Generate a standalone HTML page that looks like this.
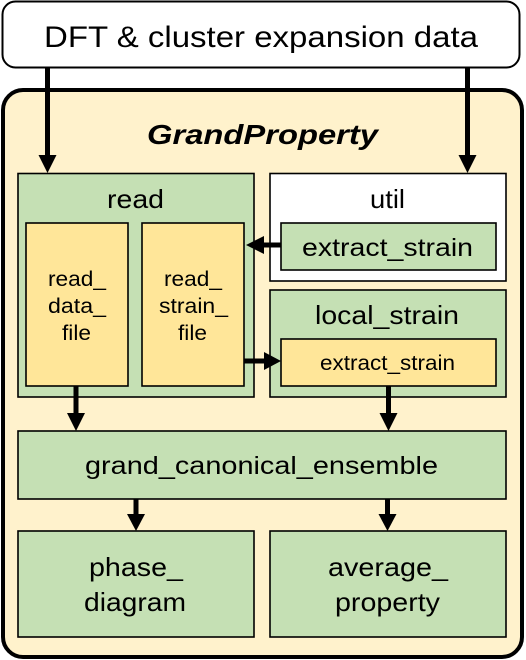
<!DOCTYPE html>
<html><head><meta charset="utf-8"><style>
html,body{margin:0;padding:0;background:#fff;}
svg{display:block;}
text{font-family:"Liberation Sans",Arial,sans-serif;fill:#000;}
</style></head><body>
<svg width="526" height="660" viewBox="0 0 526 660" xmlns="http://www.w3.org/2000/svg">
<rect x="2.5" y="1.5" width="517" height="66" rx="13" fill="#fff" stroke="#000" stroke-width="2"/>
<text x="44" y="47" font-size="30" textLength="434" lengthAdjust="spacingAndGlyphs">DFT &amp; cluster expansion data</text>
<rect x="3" y="90" width="519" height="567" rx="20" fill="#fff2cc" stroke="#000" stroke-width="4"/>
<text x="147" y="144" font-size="28" font-weight="bold" font-style="italic" textLength="231" lengthAdjust="spacingAndGlyphs">GrandProperty</text>

<g stroke="#000" stroke-width="1.6">
<rect x="18" y="173.5" width="236" height="223.5" fill="#c5e0b4"/>
<rect x="26" y="223" width="102" height="163" fill="#ffe699"/>
<rect x="142" y="223" width="102" height="163" fill="#ffe699"/>
<rect x="270" y="173.5" width="236" height="107.5" fill="#fff"/>
<rect x="281" y="223" width="215" height="47" fill="#c5e0b4"/>
<rect x="270" y="290" width="236" height="107" fill="#c5e0b4"/>
<rect x="281" y="339" width="215" height="47" fill="#ffe699"/>
<rect x="18" y="431" width="488" height="68" fill="#c5e0b4"/>
<rect x="18" y="531" width="236" height="106" fill="#c5e0b4"/>
<rect x="270" y="531" width="236" height="106" fill="#c5e0b4"/>
</g>

<text x="107" y="208" font-size="26" textLength="57" lengthAdjust="spacingAndGlyphs">read</text>
<text x="48" y="286" font-size="21" textLength="58" lengthAdjust="spacingAndGlyphs">read_</text>
<text x="48" y="313" font-size="21" textLength="58" lengthAdjust="spacingAndGlyphs">data_</text>
<text x="62" y="340" font-size="21" textLength="29" lengthAdjust="spacingAndGlyphs">file</text>
<text x="164" y="286" font-size="21" textLength="58" lengthAdjust="spacingAndGlyphs">read_</text>
<text x="159" y="313" font-size="21" textLength="69" lengthAdjust="spacingAndGlyphs">strain_</text>
<text x="178" y="340" font-size="21" textLength="29" lengthAdjust="spacingAndGlyphs">file</text>
<text x="370" y="208" font-size="26" textLength="35" lengthAdjust="spacingAndGlyphs">util</text>
<text x="302" y="256" font-size="25" textLength="171" lengthAdjust="spacingAndGlyphs">extract_strain</text>
<text x="315" y="324" font-size="26" textLength="144" lengthAdjust="spacingAndGlyphs">local_strain</text>
<text x="320" y="370" font-size="21" textLength="135" lengthAdjust="spacingAndGlyphs">extract_strain</text>
<text x="85" y="474" font-size="25" textLength="353" lengthAdjust="spacingAndGlyphs">grand_canonical_ensemble</text>
<text x="89" y="576" font-size="26" textLength="94" lengthAdjust="spacingAndGlyphs">phase_</text>
<text x="84" y="611" font-size="26" textLength="102" lengthAdjust="spacingAndGlyphs">diagram</text>
<text x="328" y="576" font-size="26" textLength="120" lengthAdjust="spacingAndGlyphs">average_</text>
<text x="335" y="611" font-size="26" textLength="105" lengthAdjust="spacingAndGlyphs">property</text>

<g stroke="#000" stroke-width="5" fill="none">
<line x1="47.5" y1="68" x2="47.5" y2="158"/>
<line x1="467.5" y1="68" x2="467.5" y2="158"/>
<line x1="281" y1="245" x2="262" y2="245"/>
<line x1="244" y1="361" x2="266" y2="361"/>
<line x1="76" y1="386" x2="76" y2="416"/>
<line x1="388.5" y1="386" x2="388.5" y2="416"/>
<line x1="136" y1="499" x2="136" y2="516"/>
<line x1="387.5" y1="499" x2="387.5" y2="516"/>
</g>
<g fill="#000">
<polygon points="38.5,155 56.5,155 47.5,173"/>
<polygon points="458.5,155 476.5,155 467.5,173"/>
<polygon points="264,236 264,254 246,245"/>
<polygon points="264,352 264,370 281,361"/>
<polygon points="67,413 85,413 76,431"/>
<polygon points="379.5,413 397.5,413 388.5,431"/>
<polygon points="127,514 145,514 136,531"/>
<polygon points="378.5,514 396.5,514 387.5,531"/>
</g>
</svg>
</body></html>
